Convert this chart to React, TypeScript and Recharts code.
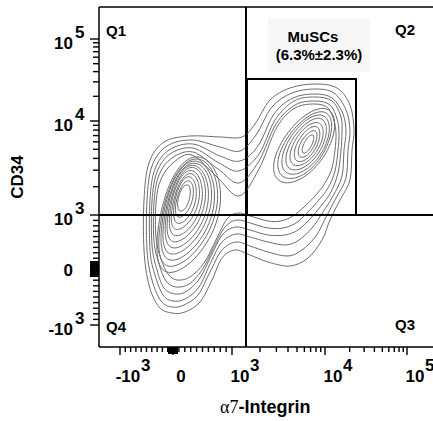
import React from 'react';
import { ComposedChart, Line, XAxis, YAxis, ReferenceLine, ReferenceArea } from 'recharts';

// display channels of the biexponential axes (value -> channel)
const X_ANCHORS: [number, number][] = [[-1000, 21], [0, 74], [1000, 133], [10000, 226], [100000, 308]];
const Y_ANCHORS: [number, number][] = [[-1000, 22], [0, 78], [1000, 132], [10000, 226], [100000, 308]];
const MAJOR_BASE = ['-10', '0', '10', '10', '10'];
const MAJOR_EXP = ['3', '', '3', '4', '5'];

// quadrant gate and MuSC gate, in channels
const QUAD_X = 147;
const QUAD_Y = 132;
const MUSC_GATE = { x1: 148, x2: 257, y1: 132, y2: 268 };

// contours that wrap both populations (outermost first)
const OUTER_1: [number, number][] = [
    [255, 217], [253, 197], [251, 167], [241, 147], [231, 127], [223, 107], [209, 89], [191, 81],
    [169, 85], [151, 92], [136, 97], [123, 89], [113, 67], [101, 45], [86, 35], [73, 34], [60, 40],
    [50, 62], [45, 97], [45, 147], [50, 184], [65, 205], [91, 211], [121, 210], [143, 210],
    [156, 223], [171, 247], [191, 259], [216, 263], [238, 259], [251, 242],
];
const OUTER_2: [number, number][] = [
    [251, 217], [249, 197], [247, 169], [237, 149], [227, 130], [217, 111], [203, 97], [189, 91],
    [169, 95], [151, 101], [137, 105], [123, 97], [111, 75], [99, 52], [85, 42], [73, 40], [62, 46],
    [53, 67], [48, 97], [48, 147], [53, 181], [68, 201], [93, 207], [121, 200], [141, 196],
    [157, 212], [173, 240], [193, 254], [216, 258], [235, 254], [247, 237],
];
const OUTER_3: [number, number][] = [
    [247, 215], [245, 197], [243, 171], [234, 151], [224, 135], [213, 119], [200, 107], [187, 102],
    [169, 105], [151, 110], [137, 113], [123, 105], [112, 85], [100, 60], [86, 48], [74, 46], [64, 52],
    [56, 72], [51, 97], [51, 147], [56, 178], [70, 197], [94, 203], [121, 191], [141, 186],
    [159, 201], [175, 233], [194, 249], [216, 253], [233, 249], [244, 233],
];
const OUTER_4: [number, number][] = [
    [243, 215], [242, 197], [239, 174], [232, 155], [222, 141], [211, 128], [199, 117], [186, 112],
    [169, 112], [151, 117], [137, 120], [124, 113], [113, 93], [101, 69], [88, 56], [76, 53], [65, 59],
    [58, 77], [53, 102], [53, 146], [58, 175], [71, 193], [94, 199], [120, 184], [140, 176],
    [160, 193], [176, 227], [195, 246], [216, 250], [233, 246], [242, 230],
];
const OUTER_5: [number, number][] = [
    [240, 214], [239, 197], [236, 176], [229, 159], [219, 146], [208, 134], [197, 124], [184, 119],
    [169, 119], [151, 124], [138, 127], [126, 120], [115, 100], [103, 77], [90, 63], [77, 60], [67, 66],
    [60, 83], [55, 106], [55, 145], [60, 172], [73, 189], [94, 195], [119, 178], [140, 164],
    [160, 186], [177, 223], [196, 242], [216, 246], [231, 242], [238, 228],
];
const OUTER_6: [number, number][] = [
    [237, 213], [236, 197], [233, 179], [226, 164], [216, 151], [205, 140], [194, 131], [182, 126],
    [169, 126], [151, 131], [139, 134], [128, 128], [117, 107], [105, 84], [91, 70], [78, 67], [69, 73],
    [62, 88], [57, 110], [57, 144], [62, 168], [75, 185], [93, 192], [118, 170], [140, 151],
    [160, 178], [178, 220], [196, 239], [216, 243], [229, 239], [235, 226],
];

// CD34+ a7- population rings: top, right, bottom, left
const LEFT_RINGS: [number, number][][] = [
    [[87, 162], [91, 151], [83, 136], [79, 147]],
    [[88, 166], [94, 150], [82, 130], [77, 144]],
    [[88, 170], [97, 149], [82, 124], [75, 141]],
    [[89, 173], [100, 148], [81, 118], [73, 138]],
    [[89, 176], [103, 147], [81, 112], [71, 135]],
    [[90, 179], [106, 146], [80, 106], [69, 132]],
    [[90, 181], [109, 145], [80, 100], [67, 129]],
    [[91, 183], [112, 144], [79, 94], [65, 126]],
    [[91, 185], [115, 143], [79, 88], [63, 123]],
    [[92, 187], [118, 142], [78, 82], [61, 120]],
    [[92, 189], [121, 141], [78, 76], [59, 117]],
];

// MuSC population rings: top, right, bottom, left
const RIGHT_RINGS: [number, number][][] = [
    [[212, 212], [214, 205], [206, 194], [204, 201]],
    [[213, 216], [217, 206], [205, 190], [200, 200]],
    [[213, 220], [220, 207], [204, 186], [196, 198]],
    [[214, 224], [223, 207], [202, 182], [192, 197]],
    [[215, 228], [226, 208], [201, 178], [188, 195]],
    [[215, 231], [229, 209], [200, 174], [184, 193]],
    [[216, 234], [231, 210], [199, 170], [180, 191]],
    [[216, 237], [234, 211], [197, 166], [176, 189]],
];

const FONT = '"Liberation Sans", Arial, Helvetica, sans-serif';

function toChannel(anchors: [number, number][], v: number) {
    const [[, pm1], [, p0], [, p1], [, p10], [, p100]] = anchors;
    if (v >= 10000) return p10 + (p100 - p10) * Math.log10(v / 10000);
    if (v >= 1000) return p1 + (p10 - p1) * Math.log10(v / 1000);
    if (v >= 0) return p0 + (p1 - p0) * v / 1000;
    return p0 + (p0 - pm1) * v / 1000;
}

// minor tick values: linear part every 100, then log decades
const MINOR_VALUES: number[] = [];
for (let v = -900; v <= 900; v += 100) if (v !== 0) MINOR_VALUES.push(v);
for (let m = 2; m <= 9; m++) MINOR_VALUES.push(m * 1000, m * 10000);

function buildTicks(anchors: [number, number][]) {
    return {
        major: anchors.map(a => toChannel(anchors, a[0])),
        minor: MINOR_VALUES.map(v => toChannel(anchors, v)),
        zero: toChannel(anchors, 0),
    };
}
const X_TICKS = buildTicks(X_ANCHORS);
const Y_TICKS = buildTicks(Y_ANCHORS);

// closed cardinal curve through every point
const closedCurve = (k: number) => (context: any) => {
    let pts: number[][] = [];
    return {
        areaStart() {},
        areaEnd() {},
        lineStart() { pts = []; },
        point(x: number, y: number) { pts.push([+x, +y]); },
        lineEnd() {
            const n = pts.length;
            if (!n) return;
            context.moveTo(pts[0][0], pts[0][1]);
            for (let i = 0; i < n; i++) {
                const p0 = pts[(i - 1 + n) % n], p1 = pts[i], p2 = pts[(i + 1) % n], p3 = pts[(i + 2) % n];
                context.bezierCurveTo(
                    p1[0] + k * (p2[0] - p0[0]) / 3, p1[1] + k * (p2[1] - p0[1]) / 3,
                    p2[0] - k * (p3[0] - p1[0]) / 3, p2[1] - k * (p3[1] - p1[1]) / 3,
                    p2[0], p2[1],
                );
            }
            context.closePath();
        },
    };
};
const ringCurve = closedCurve(0.83);
const outerCurve = closedCurve(0.5);

const BASE_W: Record<string, number> = { '-10': 25, '0': 9.5, '10': 19 };

const XTick = (props: any) => {
    const { x, y, index } = props;
    const base = MAJOR_BASE[index];
    return (
        <g>
            <line x1={x} x2={x} y1={y} y2={y + 8} stroke="#000" strokeWidth={1.4} />
            <g fontFamily={FONT} fontWeight="bold" fontSize={17} fill="#000">
                <text x={x + 8} y={y + 35} textAnchor="middle">{base}</text>
                {MAJOR_EXP[index] ? (
                    <text x={x + 8 + BASE_W[base] / 2 + 0.5} y={y + 24}>{MAJOR_EXP[index]}</text>
                ) : null}
            </g>
        </g>
    );
};

const YTick = (props: any) => {
    const { x, y, index } = props;
    const exp = MAJOR_EXP[index];
    return (
        <g>
            <line x1={x - 9} x2={x} y1={y} y2={y} stroke="#000" strokeWidth={1.4} />
            <g fontFamily={FONT} fontWeight="bold" fontSize={17} fill="#000">
                <text x={x - 26} y={y + (exp ? 10 : 7)} textAnchor="end">{MAJOR_BASE[index]}</text>
                {exp ? <text x={x - 24} y={y - 1}>{exp}</text> : null}
            </g>
        </g>
    );
};

const toPoints = (ring: [number, number][]) => ring.map(([x, y]) => ({ x, y }));

export default function App() {
    const outer = [OUTER_1, OUTER_2, OUTER_3, OUTER_4, OUTER_5, OUTER_6];
    return (
        <div style={{ position: 'absolute', left: 0, top: 0, width: 433, height: 421, background: '#fff' }}>
            <ComposedChart width={433} height={421} margin={{ top: 7, right: 0, bottom: 0, left: 0 }}>
                <XAxis type="number" dataKey="x" domain={[0, 334]} ticks={X_TICKS.major} interval={0}
                    tickSize={0} tickMargin={0} tick={<XTick />} height={74} allowDataOverflow
                    stroke="#000" strokeWidth={1.5} />
                <YAxis type="number" dataKey="y" domain={[0, 340]} ticks={Y_TICKS.major} interval={0}
                    tickSize={0} tickMargin={0} tick={<YTick />} width={99} allowDataOverflow
                    stroke="#000" strokeWidth={1.5} />
                <rect x={268} y={18} width={102} height={54} fill="#f7f7f7" />
                {outer.map((ring, i) => (
                    <Line key={`o${i}`} data={toPoints(ring)} dataKey="y" type={outerCurve} stroke="#6e6e6e"
                        strokeWidth={1} dot={false} activeDot={false} isAnimationActive={false} />
                ))}
                {LEFT_RINGS.map((ring, i) => (
                    <Line key={`l${i}`} data={toPoints(ring)} dataKey="y" type={ringCurve} stroke="#6e6e6e"
                        strokeWidth={1} dot={false} activeDot={false} isAnimationActive={false} />
                ))}
                {RIGHT_RINGS.map((ring, i) => (
                    <Line key={`r${i}`} data={toPoints(ring)} dataKey="y" type={ringCurve} stroke="#6e6e6e"
                        strokeWidth={1} dot={false} activeDot={false} isAnimationActive={false} />
                ))}
                {/* minor ticks, drawn just outside the plot */}
                {X_TICKS.minor.map((v, i) => (
                    <ReferenceLine key={`mx${i}`} segment={[{ x: v, y: 0 }, { x: v, y: -5 }]} ifOverflow="visible"
                        stroke="#000" strokeWidth={1.4} />
                ))}
                {Y_TICKS.minor.map((v, i) => (
                    <ReferenceLine key={`my${i}`} segment={[{ x: 0, y: v }, { x: -6, y: v }]} ifOverflow="visible"
                        stroke="#000" strokeWidth={1.4} />
                ))}
                {/* dense tick bundle around zero on both axes */}
                <ReferenceArea x1={X_TICKS.zero - 5} x2={X_TICKS.zero + 5} y1={-7} y2={0} ifOverflow="visible"
                    fill="#000" fillOpacity={1} stroke="none" />
                <ReferenceArea x1={-9} x2={0} y1={Y_TICKS.zero - 8} y2={Y_TICKS.zero + 8} ifOverflow="visible"
                    fill="#000" fillOpacity={1} stroke="none" />
                <ReferenceLine y={340} stroke="#000" strokeWidth={1.5} />
                <ReferenceLine x={QUAD_X} stroke="#000" strokeWidth={2} />
                <ReferenceLine y={QUAD_Y} stroke="#000" strokeWidth={2} />
                <ReferenceArea x1={MUSC_GATE.x1} x2={MUSC_GATE.x2} y1={MUSC_GATE.y1} y2={MUSC_GATE.y2}
                    fill="none" fillOpacity={0} stroke="#000" strokeWidth={2} />
                <g fontFamily={FONT} fontWeight="bold" fontSize={15} fill="#000">
                    <text x={106} y={36}>Q1</text>
                    <text x={395} y={35}>Q2</text>
                    <text x={395} y={330}>Q3</text>
                    <text x={106} y={332}>Q4</text>
                    <text x={313} y={42} textAnchor="middle">MuSCs</text>
                    <text x={319} y={60} textAnchor="middle">(6.3%±2.3%)</text>
                </g>
                <text transform="translate(23,177) rotate(-90)" textAnchor="middle" fontFamily={FONT}
                    fontWeight="bold" fontSize={17} fill="#000">CD34</text>
                <text x={220} y={413} fontFamily={FONT} fontWeight="bold" fontSize={18} fill="#000">
                    <tspan fontFamily='"Liberation Serif", "Times New Roman", serif' fontWeight="normal">α7</tspan>
                    <tspan>-Integrin</tspan>
                </text>
            </ComposedChart>
        </div>
    );
}
